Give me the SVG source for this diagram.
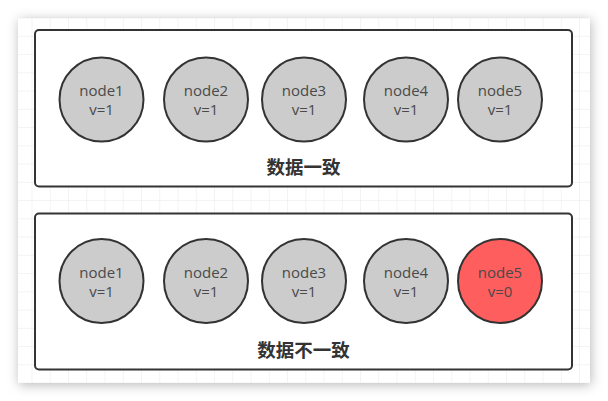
<svg xmlns="http://www.w3.org/2000/svg" width="608" height="401" viewBox="0 0 608 401">
  <defs>
    <filter id="shadow" x="-10%" y="-10%" width="120%" height="120%">
      <feDropShadow dx="1" dy="2" stdDeviation="6" flood-color="#000" flood-opacity="0.28"/>
    </filter>
    <pattern id="grid" x="14.25" y="18.55" width="18.25" height="18.25" patternUnits="userSpaceOnUse">
      <path d="M18.25 0 V18.25 M0 18.25 H18.25" fill="none" stroke="#e8e8e8" stroke-width="1"/>
    </pattern>
    <style>
      .frame { fill: #ffffff; stroke: #333333; stroke-width: 2; }
      .node { fill: #cccccc; stroke: #333333; stroke-width: 2; }
      .node.bad { fill: #ff5e5e; }
      .lbl { font-family: "Open Sans", "Noto Sans", "Liberation Sans", sans-serif; font-size: 15px; fill: #4a4a4a; text-anchor: middle; }
      .title { font-family: "Noto Sans CJK SC", "Noto Sans", sans-serif; font-size: 18.5px; font-weight: bold; fill: #333333; text-anchor: middle; }
    </style>
  </defs>
  <rect x="0" y="0" width="608" height="401" fill="#ffffff"/>
  <rect x="18" y="18" width="572" height="365" fill="#ffffff" filter="url(#shadow)"/>
  <rect x="18" y="18" width="572" height="365" fill="url(#grid)"/>

  <g id="frame-consistent">
    <rect class="frame" x="35" y="30" width="537" height="156.5" rx="4"/>
    <text class="title" x="303.5" y="173.5">数据一致</text>
  </g>
  <g id="frame-inconsistent">
    <rect class="frame" x="35" y="213.5" width="537" height="156" rx="4"/>
    <text class="title" x="303.5" y="356.5">数据不一致</text>
  </g>

  <g id="top-node1"><circle class="node" cx="101.5" cy="99.5" r="42"/><text class="lbl" x="101.5" y="96">node1</text><text class="lbl" x="101.5" y="115">v=1</text></g>
  <g id="top-node2"><circle class="node" cx="206" cy="99.5" r="42"/><text class="lbl" x="206" y="96">node2</text><text class="lbl" x="206" y="115">v=1</text></g>
  <g id="top-node3"><circle class="node" cx="304" cy="99.5" r="42"/><text class="lbl" x="304" y="96">node3</text><text class="lbl" x="304" y="115">v=1</text></g>
  <g id="top-node4"><circle class="node" cx="406" cy="99.5" r="42"/><text class="lbl" x="406" y="96">node4</text><text class="lbl" x="406" y="115">v=1</text></g>
  <g id="top-node5"><circle class="node" cx="500" cy="99.5" r="42"/><text class="lbl" x="500" y="96">node5</text><text class="lbl" x="500" y="115">v=1</text></g>

  <g id="bottom-node1"><circle class="node" cx="101.5" cy="281" r="42"/><text class="lbl" x="101.5" y="277.5">node1</text><text class="lbl" x="101.5" y="296.5">v=1</text></g>
  <g id="bottom-node2"><circle class="node" cx="206" cy="281" r="42"/><text class="lbl" x="206" y="277.5">node2</text><text class="lbl" x="206" y="296.5">v=1</text></g>
  <g id="bottom-node3"><circle class="node" cx="304" cy="281" r="42"/><text class="lbl" x="304" y="277.5">node3</text><text class="lbl" x="304" y="296.5">v=1</text></g>
  <g id="bottom-node4"><circle class="node" cx="406" cy="281" r="42"/><text class="lbl" x="406" y="277.5">node4</text><text class="lbl" x="406" y="296.5">v=1</text></g>
  <g id="bottom-node5"><circle class="node bad" cx="500" cy="281" r="42"/><text class="lbl" x="500" y="277.5">node5</text><text class="lbl" x="500" y="296.5">v=0</text></g>

  <g id="connectors"></g>
</svg>
